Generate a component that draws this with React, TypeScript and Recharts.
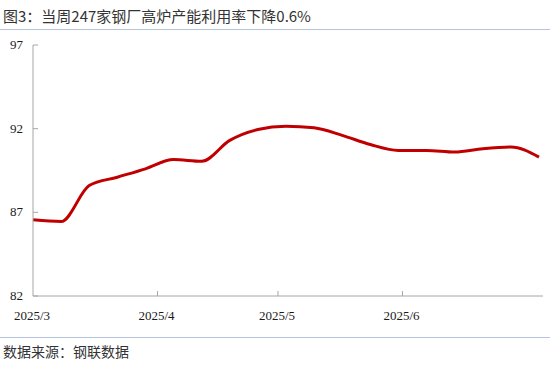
import React from 'react';
import { LineChart, Line, XAxis, YAxis } from 'recharts';

// days since 2025/3/1, one point per week
const weekDays = [0, 7, 14, 21, 28, 35, 42, 49, 56, 63, 70, 77, 84, 91, 98, 105, 112, 119, 126];
const utilization = [86.55, 86.45, 88.6, 89.1, 89.6, 90.15, 90.05, 91.3, 91.95, 92.15, 92.05, 91.6, 91.05, 90.7, 90.7, 90.6, 90.8, 90.9, 90.3];

const monthTicks = [0, 31, 61, 92];
const monthLabels = ['2025/3', '2025/4', '2025/5', '2025/6'];
const yTicks = [82, 87, 92, 97];

const data = weekDays.map((d, i) => ({ day: d, value: utilization[i] }));

const axisColor = '#a6a6a6';
const labelStyle = { fontFamily: '"Liberation Serif", "DejaVu Serif", serif', fontSize: 13 };

const XTick = ({ x, y, payload }: any) => {
  const idx = monthTicks.indexOf(payload.value);
  return (
    <g>
      {payload.value !== 0 && <line x1={x} y1={y} x2={x} y2={y - 5} stroke={axisColor} strokeWidth={1} />}
      <text x={x - 1} y={y + 24} textAnchor="middle" style={labelStyle} fill="#1a1a1a">
        {monthLabels[idx]}
      </text>
    </g>
  );
};

const YTick = ({ x, y, payload }: any) => (
  <g>
    <line x1={x} y1={y} x2={x + 5} y2={y} stroke={axisColor} strokeWidth={1} />
    <text x={x - 10} y={y + 4} textAnchor="end" style={labelStyle} fill="#1a1a1a">
      {payload.value}
    </text>
  </g>
);

export default function App() {
  return (
    <div style={{ position: 'absolute', left: 0, top: 0, width: 550, height: 366, background: '#fff' }}>
      <div
        style={{
          position: 'absolute',
          left: 3,
          top: 5,
          fontSize: 15,
          fontFamily: '"Noto Sans CJK SC", sans-serif',
          color: '#333',
          whiteSpace: 'nowrap',
        }}
      >
        图3：当周247家钢厂高炉产能利用率下降0.6%
      </div>
      <div style={{ position: 'absolute', left: 0, top: 29, width: 550, height: 1, background: '#b4c3de' }} />

      <div style={{ position: 'absolute', left: 0, top: 0 }}>
        <LineChart width={550} height={366} data={data} margin={{ top: 45, right: 7, bottom: 40, left: 0 }}>
          <XAxis
            dataKey="day"
            type="number"
            domain={[0, 127]}
            ticks={monthTicks}
            height={30}
            stroke={axisColor}
            tickLine={false}
            tickSize={0}
            tickMargin={0}
            tick={<XTick />}
            interval={0}
          />
          <YAxis
            domain={[82, 97]}
            ticks={yTicks}
            width={33}
            stroke={axisColor}
            tickLine={false}
            tickSize={0}
            tickMargin={0}
            tick={<YTick />}
            interval={0}
          />
          <Line
            type="monotone"
            dataKey="value"
            stroke="#c00000"
            strokeWidth={3}
            dot={false}
            isAnimationActive={false}
          />
        </LineChart>
      </div>

      <div style={{ position: 'absolute', left: 0, top: 337, width: 550, height: 1, background: '#b4c3de' }} />
      <div
        style={{
          position: 'absolute',
          left: 3,
          top: 341,
          fontSize: 14,
          fontFamily: '"Noto Sans CJK SC", serif',
          color: '#333',
          whiteSpace: 'nowrap',
        }}
      >
        数据来源：钢联数据
      </div>
    </div>
  );
}
